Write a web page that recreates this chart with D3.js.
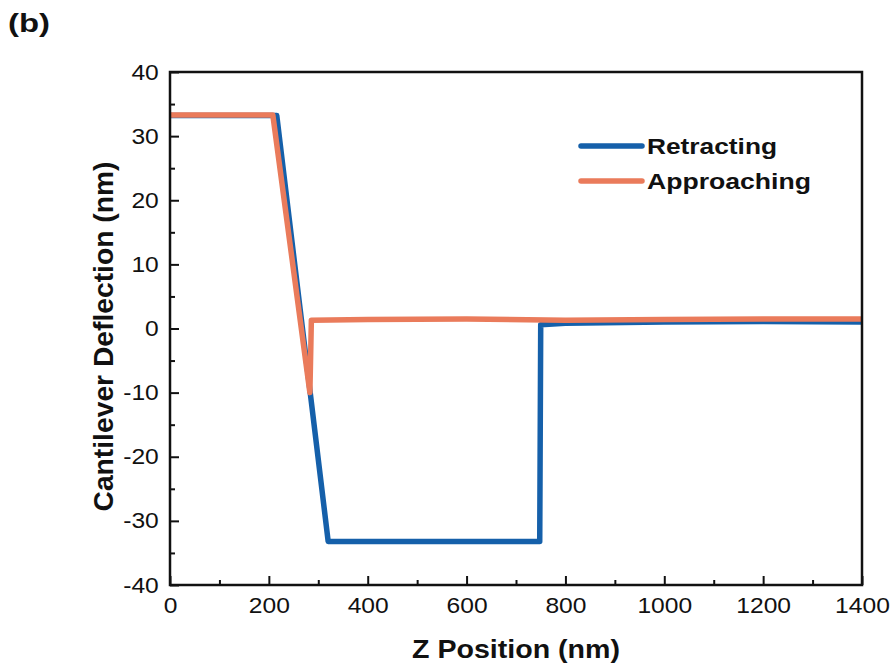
<!DOCTYPE html>
<html>
<head>
<meta charset="utf-8">
<script src="https://cdn.jsdelivr.net/npm/d3@7"></script>
<style>
  body { margin: 0; background: #fff; }
  svg text { font-family: "Liberation Sans", Arial, sans-serif; fill: #111; }
</style>
</head>
<body>
<div id="chart"></div>
<script>
// Z position (nm) / cantilever deflection (nm)
const retractZ = [0, 100, 216, 320, 500, 650, 748, 750, 800, 1000, 1200, 1400];
const retractD = [33.2, 33.2, 33.2, -33.2, -33.2, -33.2, -33.2, 0.6, 0.8, 1.0, 1.1, 1.0];
const approachZ = [0, 100, 208, 283, 286, 400, 600, 800, 1000, 1200, 1400];
const approachD = [33.3, 33.3, 33.3, -10, 1.3, 1.4, 1.5, 1.3, 1.4, 1.5, 1.5];
const seriesNames = ["Retracting", "Approaching"];
const seriesColors = ["#1560aa", "#ea7b5b"];
const xTicks = [0, 200, 400, 600, 800, 1000, 1200, 1400];
const yTicks = [-40, -30, -20, -10, 0, 10, 20, 30, 40];

document.addEventListener('DOMContentLoaded', function () {
    const W = 895, H = 668;
    const margin = { top: 72, right: 33, bottom: 83, left: 170 },
          width = W - margin.left - margin.right,
          height = H - margin.top - margin.bottom;
    const sx = 1.12; // the original figure's text is a bit wide

    const x = d3.scaleLinear().domain([0, 1400]).range([0, width]);
    const y = d3.scaleLinear().domain([-40, 40]).range([height, 0]);

    const svg = d3.select("#chart").append("svg")
        .attr("width", W)
        .attr("height", H);

    const g = svg.append("g")
        .attr("transform", `translate(${margin.left},${margin.top})`);

    const series = [
        { name: seriesNames[0], color: seriesColors[0], pts: retractZ.map((z, i) => [z, retractD[i]]) },
        { name: seriesNames[1], color: seriesColors[1], pts: approachZ.map((z, i) => [z, approachD[i]]) }
    ];

    const line = d3.line()
        .x(d => x(d[0]))
        .y(d => y(d[1]));

    g.selectAll(".series")
        .data(series)
        .join("path")
        .attr("class", "series")
        .attr("fill", "none")
        .attr("stroke", d => d.color)
        .attr("stroke-width", 5.5)
        .attr("stroke-linejoin", "round")
        .attr("d", d => line(d.pts));

    // minor ticks (inward)
    const xMinor = d3.range(100, 1400, 200);
    const yMinor = d3.range(-35, 40, 10);
    const fmt = d3.format("d");
    const hyph = v => fmt(v).replace("\u2212", "-");

    const xAxis = d3.axisBottom(x).tickValues(xTicks).tickSize(-9).tickPadding(12).tickFormat(hyph);
    const yAxis = d3.axisLeft(y).tickValues(yTicks).tickSize(-9).tickPadding(10).tickFormat(hyph);

    const gx = g.append("g")
        .attr("transform", `translate(0,${height})`)
        .call(xAxis);
    gx.append("g").call(d3.axisBottom(x).tickValues(xMinor).tickSize(-5).tickFormat(""));

    const gy = g.append("g").call(yAxis);
    gy.append("g").call(d3.axisLeft(y).tickValues(yMinor).tickSize(-5).tickFormat(""));

    [gx, gy].forEach(a => {
        a.selectAll(".domain").remove();
        a.selectAll("line").attr("stroke", "#111").attr("stroke-width", 2);
        a.selectAll("text")
            .style("font-size", "22px")
            .attr("fill", "#111")
            .attr("transform", `scale(${sx},1)`);
    });
    gx.selectAll("text").attr("dy", "0.71em");

    // frame
    g.append("rect")
        .attr("width", width)
        .attr("height", height)
        .attr("fill", "none")
        .attr("stroke", "#111")
        .attr("stroke-width", 2.5);

    // axis titles
    svg.append("text")
        .attr("x", 412)
        .attr("y", 658)
        .attr("textLength", 208)
        .attr("lengthAdjust", "spacingAndGlyphs")
        .style("font-size", "25px")
        .style("font-weight", "bold")
        .text("Z Position (nm)");

    svg.append("text")
        .attr("transform", `translate(113,${margin.top + height / 2 + 8}) rotate(-90)`)
        .attr("text-anchor", "middle")
        .attr("textLength", 350)
        .attr("lengthAdjust", "spacingAndGlyphs")
        .style("font-size", "28px")
        .style("font-weight", "bold")
        .text("Cantilever Deflection (nm)");

    svg.append("text")
        .attr("x", 8)
        .attr("y", 32)
        .attr("textLength", 42)
        .attr("lengthAdjust", "spacingAndGlyphs")
        .style("font-size", "25px")
        .style("font-weight", "bold")
        .text("(b)");

    // legend
    const legendW = [130, 164];
    const legend = svg.append("g").attr("transform", "translate(581,146)");
    const item = legend.selectAll("g")
        .data(series)
        .join("g")
        .attr("transform", (d, i) => `translate(0,${i * 35})`);
    item.append("line")
        .attr("x1", 0).attr("x2", 61)
        .attr("stroke", d => d.color)
        .attr("stroke-width", 5.5)
        .attr("stroke-linecap", "round");
    item.append("text")
        .attr("x", 66)
        .attr("y", 8)
        .attr("textLength", (d, i) => legendW[i])
        .attr("lengthAdjust", "spacingAndGlyphs")
        .style("font-size", "22px")
        .style("font-weight", "bold")
        .text(d => d.name);
});
</script>
</body>
</html>
